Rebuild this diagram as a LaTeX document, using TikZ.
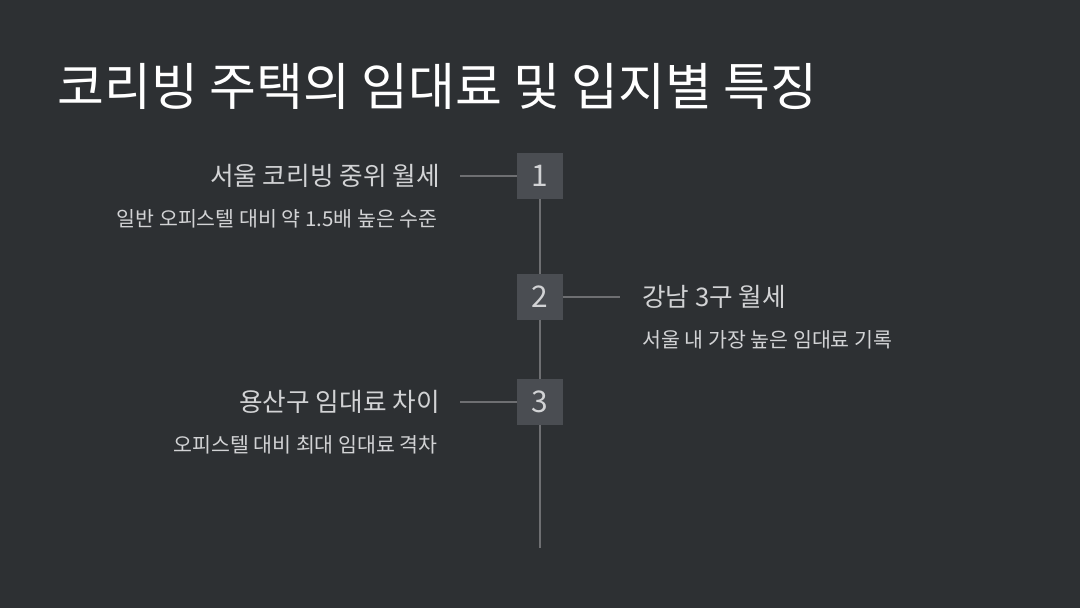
\documentclass[tikz,border=0pt]{standalone}
\usepackage{fontspec}
\setmainfont{Noto Sans CJK KR}
\usetikzlibrary{positioning}
\definecolor{bgdark}{HTML}{2D3033}
\definecolor{linegray}{HTML}{6E6F72}
\definecolor{boxgray}{HTML}{4A4D52}
\definecolor{subgray}{HTML}{D2D3D5}
\tikzset{
  numbox/.style={fill=boxgray, minimum size=0.92cm, inner sep=0pt, text=subgray, font=\fontsize{17}{20}\selectfont},
  headtxt/.style={text=subgray, font=\fontsize{14.6}{17}\selectfont, inner sep=0pt},
  subtxt/.style={text=subgray, font=\fontsize{11.7}{14}\selectfont, inner sep=0pt},
  conn/.style={draw=linegray, line width=1.2pt}
}
\begin{document}
\begin{tikzpicture}[x=0.02cm, y=-0.02cm]
\useasboundingbox[fill=bgdark] (0,0) rectangle (1080,608);
\node[anchor=base west, text=white, inner sep=0pt, font=\fontsize{29}{34}\selectfont] (title) at (57,106) {코리빙 주택의 임대료 및 입지별 특징};
\coordinate (top) at (540,176);
\coordinate (bot) at (540,548);
\draw[conn] (top) -- (bot);
\node[numbox] (n1) at (540,176) {1};
\node[numbox] (n2) at (540,297) {2};
\node[numbox] (n3) at (540,402) {3};
\coordinate (c1) at (460,176);
\coordinate (c2) at (620,297);
\coordinate (c3) at (460,402);
\draw[conn] (n1.west) -- (c1);
\draw[conn] (n2.east) -- (c2);
\draw[conn] (n3.west) -- (c3);
\node[headtxt, anchor=east] (h1) at (440,176) {서울 코리빙 중위 월세};
\node[subtxt, anchor=east] (s1) at (438,219) {일반 오피스텔 대비 약 1.5배 높은 수준};
\node[headtxt, anchor=west] (h2) at (642,297) {강남 3구 월세};
\node[subtxt, anchor=west] (s2) at (642,340) {서울 내 가장 높은 임대료 기록};
\node[headtxt, anchor=east] (h3) at (440,402) {용산구 임대료 차이};
\node[subtxt, anchor=east] (s3) at (438,445) {오피스텔 대비 최대 임대료 격차};
\end{tikzpicture}
\end{document}
